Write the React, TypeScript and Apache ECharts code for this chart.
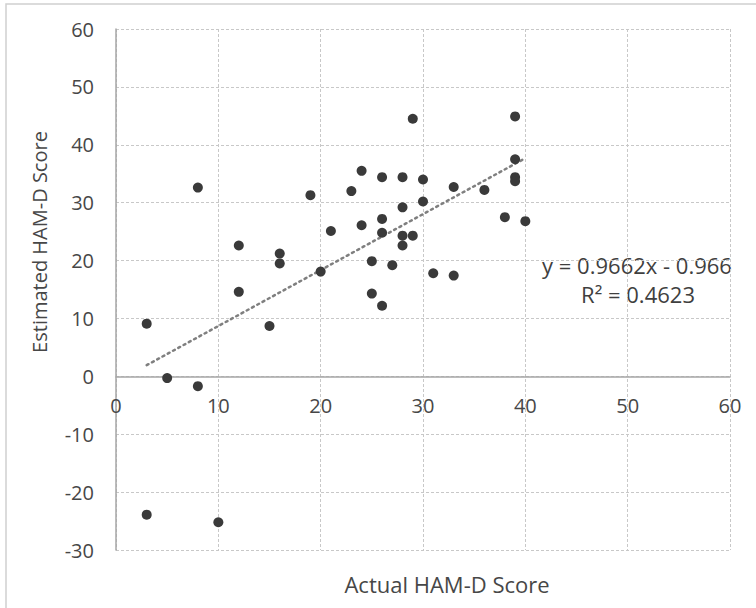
import React, { useEffect, useRef } from "react";
import * as echarts from "echarts";

const actual = [3, 3, 5, 8, 8, 10, 12, 12, 15, 16, 16, 19, 20, 21, 23, 24, 24, 25, 25, 26, 26, 26, 26, 27, 28, 28, 28, 28, 29, 29, 30, 30, 31, 33, 33, 36, 38, 39, 39, 39, 39, 40];
const estimated = [9.1, -23.9, -0.3, 32.6, -1.7, -25.2, 22.6, 14.6, 8.7, 21.2, 19.5, 31.3, 18.1, 25.1, 32.0, 35.5, 26.1, 19.9, 14.3, 34.4, 27.2, 24.8, 12.2, 19.2, 34.4, 29.2, 24.3, 22.6, 44.5, 24.3, 34.0, 30.2, 17.8, 32.7, 17.4, 32.2, 27.5, 44.9, 37.5, 34.4, 33.7, 26.8];
const trendX = [3, 40];
const trendY = [1.93, 37.68];
const equationLines = ["y = 0.9662x - 0.966", "R\u00b2 = 0.4623"];
const xTitle = "Actual HAM-D Score";
const yTitle = "Estimated HAM-D Score";

const FONT = "'Open Sans', 'Noto Sans', sans-serif";
const TEXT = "#474747";

export default function App() {
  const ref = useRef<HTMLDivElement>(null);
  useEffect(() => {
    if (!ref.current) return;
    const chart = echarts.init(ref.current, null, { renderer: "svg" });
    const points = actual.map((x, i) => [x, estimated[i]]);
    const trend = trendX.map((x, i) => [x, trendY[i]]);
    chart.setOption({
      animation: false,
      backgroundColor: "#ffffff",
      grid: { left: 116, right: 26, top: 29, bottom: 58 },
      xAxis: {
        type: "value",
        min: 0,
        max: 60,
        interval: 10,
        position: "bottom",
        offset: -173.7,
        axisLine: { show: true, onZero: false, lineStyle: { color: "#a6a6a6", width: 1.5 } },
        axisTick: { show: false },
        axisLabel: { color: TEXT, fontSize: 20, fontFamily: FONT, margin: 19 },
        splitLine: { show: true, lineStyle: { color: "#c8c8c8", type: [3, 2], width: 1 } },
      },
      yAxis: {
        type: "value",
        min: -30,
        max: 60,
        interval: 10,
        axisLine: { show: true, onZero: true, lineStyle: { color: "#a6a6a6", width: 1.5 } },
        axisTick: { show: false },
        axisLabel: { color: TEXT, fontSize: 20, fontFamily: FONT, margin: 22 },
        splitLine: { show: true, lineStyle: { color: "#c8c8c8", type: [3, 2], width: 1 } },
      },
      series: [
        {
          type: "line",
          data: trend,
          symbol: "none",
          lineStyle: { color: "#7f7f7f", width: 2.5, type: [2, 4], cap: "round" },
          silent: true,
          z: 1,
        },
        {
          type: "scatter",
          data: points,
          symbolSize: 10,
          itemStyle: { color: "#3a3a3a", opacity: 1 },
          z: 2,
        },
      ],
      graphic: [
        {
          type: "rect",
          shape: { x: 6, y: 4, width: 800, height: 700 },
          style: { fill: "none", stroke: "#d0d0d0", lineWidth: 1.5 },
          silent: true,
          z: -1,
        },
        {
          type: "text",
          x: 447,
          y: 584,
          style: { text: xTitle, fill: TEXT, font: `22px ${FONT}`, align: "center", verticalAlign: "middle" },
        },
        {
          type: "text",
          x: 39,
          y: 242,
          rotation: Math.PI / 2,
          style: { text: yTitle, fill: TEXT, font: `20px ${FONT}`, align: "center", verticalAlign: "middle" },
        },
        {
          type: "text",
          x: 637,
          y: 265,
          style: { text: equationLines[0], fill: "#3f3f3f", font: `22px ${FONT}`, align: "center", verticalAlign: "middle" },
        },
        {
          type: "text",
          x: 638,
          y: 294,
          style: { text: equationLines[1], fill: "#3f3f3f", font: `22px ${FONT}`, align: "center", verticalAlign: "middle" },
        },
      ],
    });
    return () => chart.dispose();
  }, []);
  return <div ref={ref} style={{ width: 756, height: 608, position: "absolute", left: 0, top: 0 }} />;
}
